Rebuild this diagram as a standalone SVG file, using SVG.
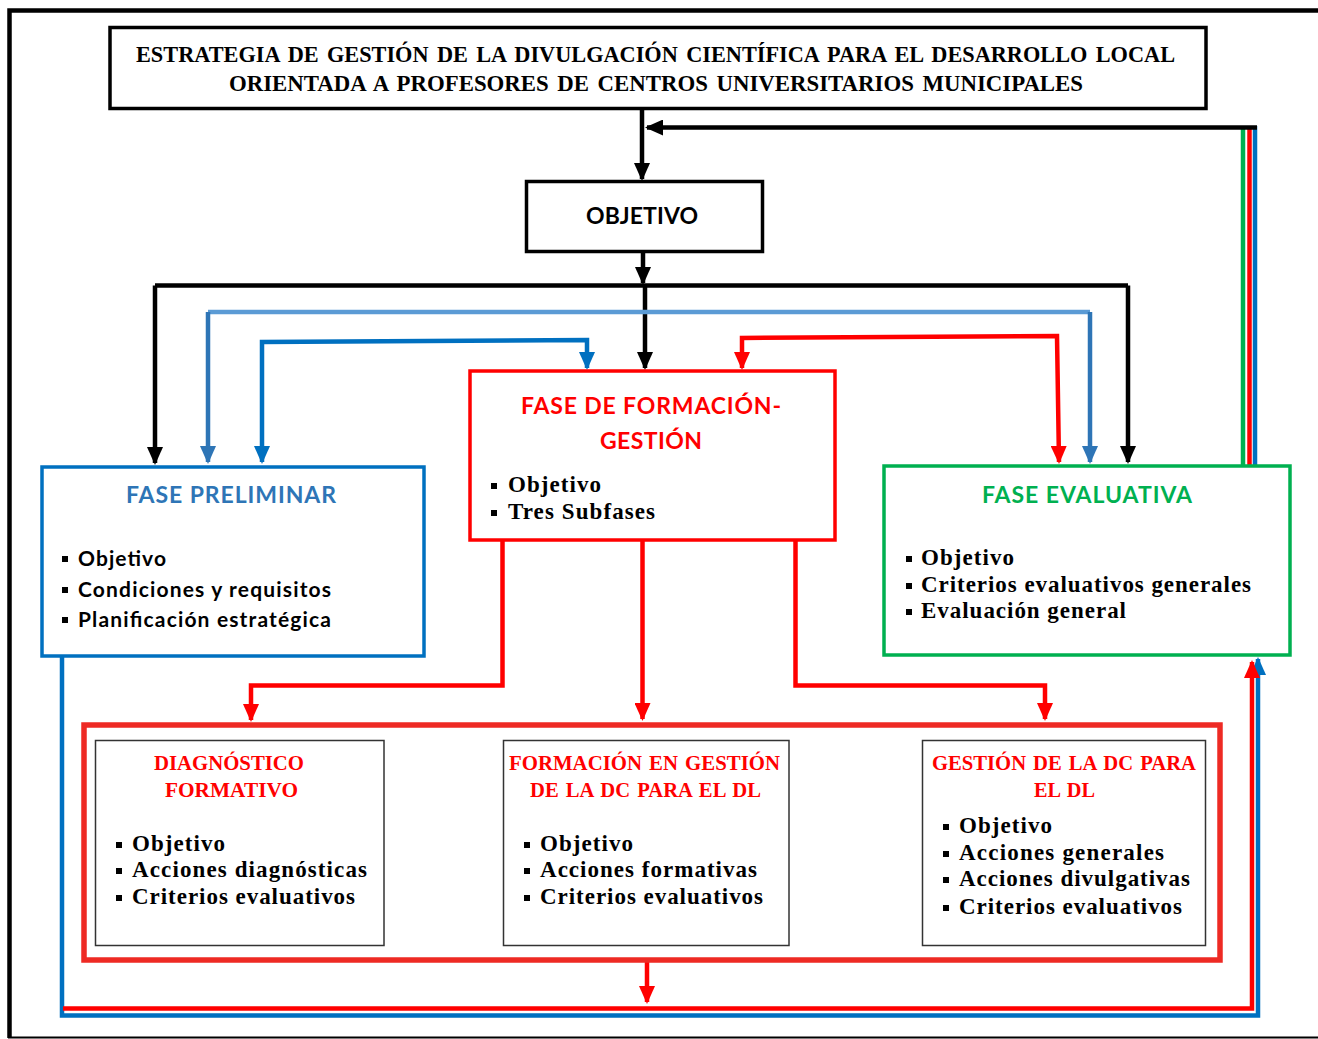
<svg xmlns="http://www.w3.org/2000/svg" width="1318" height="1039" viewBox="0 0 1318 1039">
<defs>
<style>
.bg{fill:#fff}
.frame{fill:none;stroke:#000}
.bx{fill:#fff;stroke-width:3.5}
.inner{fill:#fff;stroke:#333;stroke-width:1.5}
.ttl{font-family:"Liberation Serif",serif;font-weight:bold;font-size:24px;fill:#000;word-spacing:3px}
.sans{font-family:Lato,"Liberation Sans",sans-serif;font-weight:bold}
.serif{font-family:"Liberation Serif",serif;font-weight:bold}
.head{font-size:23px}
.sb{font-size:23px;fill:#000}
.rb{font-size:22px;fill:#FF0000;word-spacing:2px}
.bl{fill:#000}
.c{fill:none;stroke-width:4.5}
.k{stroke:#000}
.r{stroke:#FF0000}
.b{stroke:#0070C0}
.s{stroke:#2E75B6}
.s2{stroke:#5B9BD5}
.g{stroke:#00B050}
</style>
<marker id="ak" viewBox="0 0 18 16" markerWidth="18" markerHeight="16" refX="16" refY="8" orient="auto-start-reverse" markerUnits="userSpaceOnUse"><path d="M0,0 L18,8 L0,16 z" fill="#000"/></marker>
<marker id="ar" viewBox="0 0 18 16" markerWidth="18" markerHeight="16" refX="16" refY="8" orient="auto-start-reverse" markerUnits="userSpaceOnUse"><path d="M0,0 L18,8 L0,16 z" fill="#FF0000"/></marker>
<marker id="ab" viewBox="0 0 18 16" markerWidth="18" markerHeight="16" refX="16" refY="8" orient="auto-start-reverse" markerUnits="userSpaceOnUse"><path d="M0,0 L18,8 L0,16 z" fill="#0070C0"/></marker>
<marker id="as" viewBox="0 0 18 16" markerWidth="18" markerHeight="16" refX="16" refY="8" orient="auto-start-reverse" markerUnits="userSpaceOnUse"><path d="M0,0 L18,8 L0,16 z" fill="#2E75B6"/></marker>
</defs>
<rect class="bg" x="0" y="0" width="1318" height="1039"/>
<g id="frame">
<path class="frame" stroke-width="4.5" d="M9.5,1038 V10.5 H1318"/>
<path class="frame" stroke-width="2" d="M8,1037.5 H1318"/>
</g>

<g id="connectors">
<path class="c k" d="M642,109 V179" marker-end="url(#ak)"/>
<path class="c k" d="M643,252 V283" marker-end="url(#ak)"/>
<path class="c k" d="M155,285.5 H1128"/>
<path class="c k" d="M155,285.5 V463" marker-end="url(#ak)"/>
<path class="c k" d="M645,285.5 V368" marker-end="url(#ak)"/>
<path class="c k" d="M1128,285.5 V462" marker-end="url(#ak)"/>
<path class="c s2" d="M208,312 H1090"/>
<path class="c s" d="M208,312 V462" marker-end="url(#as)"/>
<path class="c s" d="M1090,312 V462" marker-end="url(#as)"/>
<path class="c b" d="M262,462 V342 L587,340 V368" marker-start="url(#ab)" marker-end="url(#ab)"/>
<path class="c r" d="M742,368 V338 L1057,336 L1059,462" marker-start="url(#ar)" marker-end="url(#ar)"/>
<path class="c r" d="M502.5,541 V685.5 H251 V720" marker-end="url(#ar)"/>
<path class="c r" d="M642.5,541 V719" marker-end="url(#ar)"/>
<path class="c r" d="M795.5,541 V685.5 H1045 V719" marker-end="url(#ar)"/>
<path class="c r" d="M389,846 H490" marker-start="url(#ar)" marker-end="url(#ar)"/>
<path class="c r" d="M798,847 H900" marker-start="url(#ar)" marker-end="url(#ar)"/>
<path class="c r" d="M647,960 V1002" marker-end="url(#ar)"/>
<path class="c b" d="M62,656 V1015.5 H1258 V659" marker-end="url(#ab)"/>
<path class="c r" d="M63,1008.5 H1252 V662" marker-end="url(#ar)"/>
<path class="c g" d="M1243,466 V126"/>
<path class="c r" d="M1249.5,466 V126"/>
<path class="c b" d="M1255,466 V126"/>
<path class="c k" d="M1257,127.5 H647" marker-end="url(#ak)"/>
</g>

<g id="title">
<rect class="bx" x="110" y="27.5" width="1096" height="81" stroke="#000"/>
<text class="ttl" x="136" y="62" textLength="1039" lengthAdjust="spacingAndGlyphs">ESTRATEGIA DE GESTIÓN DE LA DIVULGACIÓN CIENTÍFICA PARA EL DESARROLLO LOCAL</text>
<text class="ttl" x="229" y="91" textLength="854" lengthAdjust="spacingAndGlyphs">ORIENTADA A PROFESORES DE CENTROS UNIVERSITARIOS MUNICIPALES</text>
</g>

<g id="objetivo">
<rect class="bx" x="526.5" y="181.5" width="236" height="70" stroke="#000"/>
<text class="sans head" x="586" y="224" textLength="112" fill="#000">OBJETIVO</text>
</g>

<g id="fase-preliminar">
<rect class="bx" x="42" y="467" width="382" height="189" stroke="#0070C0"/>
<text class="sans head" x="126" y="503" textLength="210" fill="#2E75B6">FASE PRELIMINAR</text>
<rect class="bl" x="62" y="556" width="6" height="6"/>
<rect class="bl" x="62" y="587" width="6" height="6"/>
<rect class="bl" x="62" y="617" width="6" height="6"/>
<text class="sans" font-size="21" x="78" y="566" textLength="88">Objetivo</text>
<text class="sans" font-size="21" x="78" y="597" textLength="253">Condiciones y requisitos</text>
<text class="sans" font-size="21" x="78" y="627" textLength="253">Planificación estratégica</text>
</g>

<g id="fase-formacion">
<rect class="bx" x="470" y="371" width="365" height="169" stroke="#FF0000"/>
<text class="sans head" x="521" y="414" textLength="260" fill="#FF0000">FASE DE FORMACIÓN-</text>
<text class="sans head" x="600" y="449" textLength="102" fill="#FF0000">GESTIÓN</text>
<rect class="bl" x="491" y="483" width="6" height="6"/>
<rect class="bl" x="491" y="510" width="6" height="6"/>
<text class="serif sb" x="508" y="492" textLength="93">Objetivo</text>
<text class="serif sb" x="508" y="519" textLength="147">Tres Subfases</text>
</g>

<g id="fase-evaluativa">
<rect class="bx" x="884" y="466" width="406" height="189" stroke="#00B050"/>
<text class="sans head" x="982" y="503" textLength="210" fill="#00B050">FASE EVALUATIVA</text>
<rect class="bl" x="906" y="556" width="6" height="6"/>
<rect class="bl" x="906" y="583" width="6" height="6"/>
<rect class="bl" x="906" y="609" width="6" height="6"/>
<text class="serif sb" x="921" y="565" textLength="93">Objetivo</text>
<text class="serif sb" x="921" y="592" textLength="330">Criterios evaluativos generales</text>
<text class="serif sb" x="921" y="618" textLength="205">Evaluación general</text>
</g>

<g id="subfases">
<rect x="84" y="725" width="1136" height="235" fill="#fff" stroke="#EE2A24" stroke-width="5.5"/>
</g>

<g id="diagnostico">
<rect class="inner" x="95.5" y="740.5" width="288.5" height="205"/>
<text class="serif rb" x="154" y="770" textLength="150" lengthAdjust="spacingAndGlyphs">DIAGNÓSTICO</text>
<text class="serif rb" x="165" y="797" textLength="133" lengthAdjust="spacingAndGlyphs">FORMATIVO</text>
<rect class="bl" x="116" y="842" width="6" height="6"/>
<rect class="bl" x="116" y="868" width="6" height="6"/>
<rect class="bl" x="116" y="895" width="6" height="6"/>
<text class="serif sb" x="132" y="851" textLength="93">Objetivo</text>
<text class="serif sb" x="132" y="877" textLength="235">Acciones diagnósticas</text>
<text class="serif sb" x="132" y="904" textLength="223">Criterios evaluativos</text>
</g>

<g id="formacion-gestion">
<rect class="inner" x="503.5" y="740.5" width="285.5" height="205"/>
<text class="serif rb" x="509" y="770" textLength="271" lengthAdjust="spacingAndGlyphs">FORMACIÓN EN GESTIÓN</text>
<text class="serif rb" x="530" y="797" textLength="231" lengthAdjust="spacingAndGlyphs">DE LA DC PARA EL DL</text>
<rect class="bl" x="524" y="842" width="6" height="6"/>
<rect class="bl" x="524" y="868" width="6" height="6"/>
<rect class="bl" x="524" y="895" width="6" height="6"/>
<text class="serif sb" x="540" y="851" textLength="93">Objetivo</text>
<text class="serif sb" x="540" y="877" textLength="217">Acciones formativas</text>
<text class="serif sb" x="540" y="904" textLength="223">Criterios evaluativos</text>
</g>

<g id="gestion-dc">
<rect class="inner" x="922.5" y="740.5" width="283" height="205"/>
<text class="serif rb" x="932" y="770" textLength="264" lengthAdjust="spacingAndGlyphs">GESTIÓN DE LA DC PARA</text>
<text class="serif rb" x="1034" y="797" textLength="61" lengthAdjust="spacingAndGlyphs">EL DL</text>
<rect class="bl" x="943" y="824" width="6" height="6"/>
<rect class="bl" x="943" y="851" width="6" height="6"/>
<rect class="bl" x="943" y="877" width="6" height="6"/>
<rect class="bl" x="943" y="905" width="6" height="6"/>
<text class="serif sb" x="959" y="833" textLength="93">Objetivo</text>
<text class="serif sb" x="959" y="860" textLength="205">Acciones generales</text>
<text class="serif sb" x="959" y="886" textLength="231">Acciones divulgativas</text>
<text class="serif sb" x="959" y="914" textLength="223">Criterios evaluativos</text>
</g>
</svg>
